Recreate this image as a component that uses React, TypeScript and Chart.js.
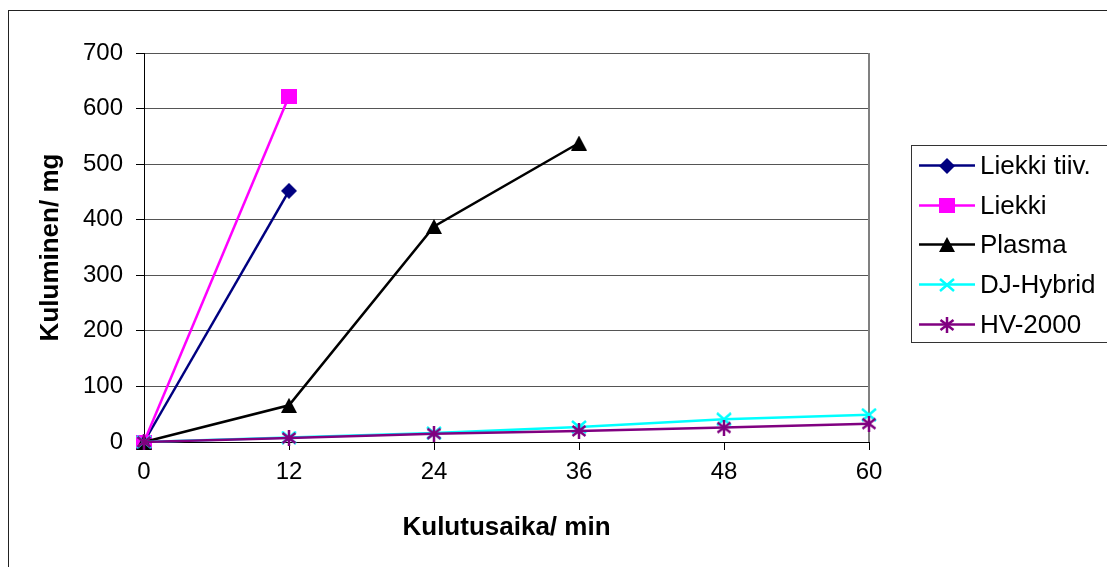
import React, { useEffect, useRef } from 'react';
import { Chart, registerables } from 'chart.js';

Chart.register(...registerables);

// ---- data ----
const categories = ['0', '12', '24', '36', '48', '60'];
const liekkiTiiv = [0, 452];
const liekki = [0, 622];
const plasma = [0, 66, 388, 538];
const djHybrid = [0, 8, 16, 27, 41, 49];
const hv2000 = [0, 7, 15, 20, 26, 33];
const seriesNames = ['Liekki tiiv.', 'Liekki', 'Plasma', 'DJ-Hybrid', 'HV-2000'];
const seriesColors = ['#000080', '#FF00FF', '#000000', '#00FFFF', '#800080'];
const seriesMarkers = ['diamond', 'square', 'triangle', 'x', 'star'];
const yMin = 0;
const yMax = 700;
const yStep = 100;
const xTitle = 'Kulutusaika/ min';
const yTitle = 'Kuluminen/ mg';

const FONT = '"Liberation Sans", Arial, Helvetica, sans-serif';

function makeMarker(kind: string, color: string): HTMLCanvasElement {
  const c = document.createElement('canvas');
  let w = 16, h = 16;
  if (kind === 'square') { w = 16; h = 15; }
  if (kind === 'triangle') { w = 16; h = 15; }
  if (kind === 'x') { w = 16; h = 14; }
  if (kind === 'star') { w = 16; h = 16; }
  c.width = w; c.height = h;
  const ctx = c.getContext('2d')!;
  ctx.fillStyle = color;
  ctx.strokeStyle = color;
  ctx.lineWidth = 2.5;
  ctx.beginPath();
  switch (kind) {
    case 'diamond':
      ctx.moveTo(w / 2, 0); ctx.lineTo(w, h / 2); ctx.lineTo(w / 2, h); ctx.lineTo(0, h / 2); ctx.closePath(); ctx.fill();
      break;
    case 'square':
      ctx.fillRect(0, 0, w, h);
      break;
    case 'triangle':
      ctx.moveTo(w / 2, 0); ctx.lineTo(w, h); ctx.lineTo(0, h); ctx.closePath(); ctx.fill();
      break;
    case 'x':
      ctx.moveTo(1, 1); ctx.lineTo(w - 1, h - 1); ctx.moveTo(w - 1, 1); ctx.lineTo(1, h - 1); ctx.stroke();
      break;
    case 'star':
      ctx.moveTo(w / 2, 0); ctx.lineTo(w / 2, h);
      ctx.moveTo(1.5, 3); ctx.lineTo(w - 1.5, h - 3);
      ctx.moveTo(w - 1.5, 3); ctx.lineTo(1.5, h - 3);
      ctx.stroke();
      break;
  }
  return c;
}

const chartFrame = {
  id: 'chartFrame',
  beforeDraw(chart: any) {
    const ctx = chart.ctx;
    ctx.save();
    ctx.fillStyle = '#fff';
    ctx.fillRect(0, 0, chart.width, chart.height);
    ctx.strokeStyle = '#222';
    ctx.lineWidth = 1;
    ctx.strokeRect(8.5, 10.5, 3000, 3000);
    ctx.restore();
  },
  beforeDatasetsDraw(chart: any) {
    const { ctx, chartArea } = chart;
    ctx.save();
    ctx.strokeStyle = '#808080';
    ctx.lineWidth = 2;
    ctx.beginPath();
    ctx.moveTo(Math.round(chartArea.right), chartArea.top);
    ctx.lineTo(Math.round(chartArea.right), chartArea.bottom);
    ctx.stroke();
    ctx.restore();
  },
};

const excelLegend = {
  id: 'excelLegend',
  afterDraw(chart: any) {
    const ctx = chart.ctx;
    ctx.save();
    ctx.strokeStyle = '#333';
    ctx.lineWidth = 1;
    ctx.strokeRect(911.5, 145.5, 400, 197);
    chart.data.datasets.forEach((ds: any, i: number) => {
      const y = Math.round(165 + i * 39.7) + 0.5;
      ctx.strokeStyle = ds.borderColor;
      ctx.lineWidth = 2.5;
      ctx.beginPath();
      ctx.moveTo(919, y);
      ctx.lineTo(975, y);
      ctx.stroke();
      const img = ds.pointStyle as HTMLCanvasElement;
      ctx.drawImage(img, Math.round(946.5 - img.width / 2), Math.round(y - img.height / 2));
      ctx.fillStyle = '#000';
      ctx.font = '26px ' + FONT;
      ctx.textBaseline = 'middle';
      ctx.textAlign = 'left';
      ctx.fillText(ds.label, 980, y + 1);
    });
    ctx.restore();
  },
};

export default function App() {
  const ref = useRef<HTMLCanvasElement | null>(null);
  useEffect(() => {
    if (!ref.current) return;
    const values = [liekkiTiiv, liekki, plasma, djHybrid, hv2000];
    const datasets = values.map((v, i) => ({
      label: seriesNames[i],
      data: v,
      borderColor: seriesColors[i],
      backgroundColor: seriesColors[i],
      borderWidth: 2.5,
      pointStyle: makeMarker(seriesMarkers[i], seriesColors[i]),
      pointRadius: 7,
      pointHoverRadius: 7,
      tension: 0,
      clip: false as any,
      order: values.length - 1 - i,
    }));
    const chart = new Chart(ref.current, {
      type: 'line',
      data: { labels: categories, datasets },
      plugins: [chartFrame, excelLegend],
      options: {
        animation: false,
        responsive: false,
        events: [],
        layout: { padding: { left: 0, top: 53, right: 238, bottom: 0 } },
        plugins: { legend: { display: false }, tooltip: { enabled: false } },
        scales: {
          x: {
            type: 'category',
            offset: false,
            afterFit: (s: any) => { s.height = 125; },
            grid: { drawOnChartArea: false, drawTicks: true, tickLength: 8, tickColor: '#000', tickWidth: 1 },
            border: { color: '#000', width: 1 },
            ticks: { color: '#000', font: { family: FONT, size: 24 }, padding: 8, maxRotation: 0 },
            title: { display: true, text: xTitle, color: '#000', font: { family: FONT, size: 26, weight: 'bold' }, padding: { top: 0, bottom: 24 } },
          },
          y: {
            min: yMin,
            max: yMax,
            afterFit: (s: any) => { s.width = 144; },
            grid: { color: '#555', lineWidth: 1, drawTicks: true, tickLength: 8, tickColor: '#000' },
            border: { color: '#000', width: 1 },
            ticks: { stepSize: yStep, color: '#000', font: { family: FONT, size: 24 }, padding: 13 },
            title: { display: true, text: yTitle, color: '#000', font: { family: FONT, size: 26, weight: 'bold' }, padding: { top: 35, bottom: 0 } },
          },
        },
      },
    });
    return () => chart.destroy();
  }, []);
  return (
    <div style={{ position: 'fixed', left: 0, top: 0, width: 1107, height: 567, background: '#fff' }}>
      <canvas ref={ref} width={1107} height={567} style={{ display: 'block' }} />
    </div>
  );
}
